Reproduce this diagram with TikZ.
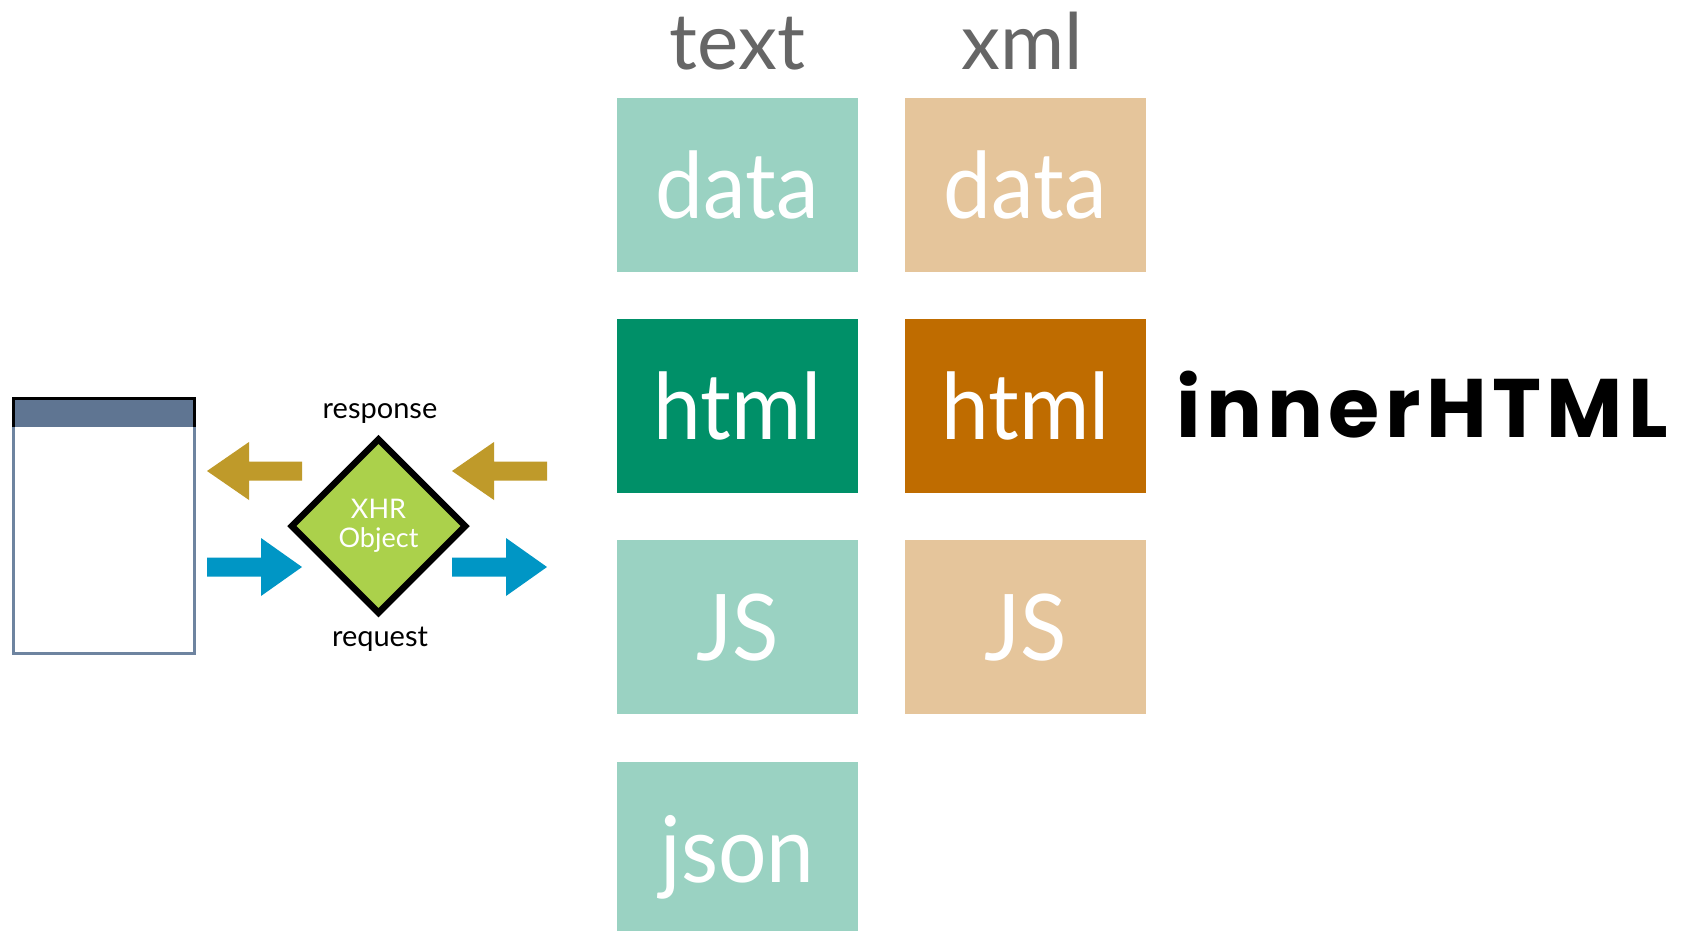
\documentclass[tikz,border=0pt]{standalone}
\usepackage{fontspec}
\usetikzlibrary{shapes.geometric}
\newfontfamily\gillfont{Lato}
\newfontfamily\boxfontfam[FakeStretch=0.93]{Lato}
\newfontfamily\heavyfont[LetterSpace=6.5]{Poppins}
\definecolor{tealL}{HTML}{9AD2C2}
\definecolor{tealD}{HTML}{009068}
\definecolor{tanL}{HTML}{E5C59B}
\definecolor{tanD}{HTML}{BF6C00}
\definecolor{greyT}{HTML}{666666}
\definecolor{xhrgreen}{HTML}{ABD14B}
\definecolor{gold}{HTML}{BF9A2A}
\definecolor{blueA}{HTML}{0096C5}
\definecolor{winbar}{HTML}{5F7592}
\definecolor{winedge}{HTML}{6E84A0}
\tikzset{
  fmtbox/.style={rectangle, minimum width=241pt, minimum height=174pt, inner sep=0pt,
    text=white, text height=66pt, text depth=0pt,
    font=\boxfontfam\fontsize{92}{100}\selectfont},
  collabel/.style={anchor=base, text=greyT, inner sep=0pt, font=\gillfont\fontsize{78}{84}\selectfont},
  smalllabel/.style={anchor=base, text=black, inner sep=0pt, font=\gillfont\fontsize{29}{32}\selectfont},
  larrow/.pic={\fill (0,0) -- (42,-29) -- (42,-9.5) -- (95,-9.5) -- (95,9.5) -- (42,9.5) -- (42,29) -- cycle;},
  rarrow/.pic={\fill (0,-9.5) -- (54,-9.5) -- (54,-29) -- (95,0) -- (54,29) -- (54,9.5) -- (0,9.5) -- cycle;}
}
\begin{document}
\begin{tikzpicture}[x=1pt,y=-1pt]
\useasboundingbox[fill=white] (0,0) rectangle (1690,930);
% column labels
\node[collabel] (ltext) at (737.5,69) {text};
\node[collabel] (lxml) at (1022,69) {xml};
% text column
\node[fmtbox, fill=tealL] (tdata) at (737.5,185) {data};
\node[fmtbox, fill=tealD] (thtml) at (737.5,406) {html};
\node[fmtbox, fill=tealL] (tjs) at (737.5,627) {JS};
\node[fmtbox, fill=tealL] (tjson) at (737.5,849) {json};
% xml column
\node[fmtbox, fill=tanL] (xdata) at (1025.5,185) {data};
\node[fmtbox, fill=tanD] (xhtml) at (1025.5,406) {html};
\node[fmtbox, fill=tanL] (xjs) at (1025.5,627) {JS};
% innerHTML
\node[anchor=base west, inner sep=0pt, font=\heavyfont\bfseries\fontsize{83}{90}\selectfont] (inner) at (1176,437) {innerHTML};
% browser window
\filldraw[fill=white, draw=winedge, line width=3pt] (13,398) rectangle (194,653);
\fill[winbar] (13,398) rectangle (194,427);
\draw[black, line width=3pt] (13,427) -- (13,398) -- (194,398) -- (194,427);
% XHR object
\node[diamond, minimum width=176pt, minimum height=176pt, inner sep=0pt, fill=xhrgreen, draw=black, line width=6.5pt,
  text=white, align=center, font=\gillfont\fontsize{27}{29}\selectfont] (xhr) at (378.5,526) {XHR\\Object};
\node[smalllabel] (resp) at (380,418) {response};
\node[smalllabel] (req) at (380,646) {request};
% arrows
\pic[gold] at (207,471) {larrow};
\pic[gold] at (452,471) {larrow};
\pic[blueA] at (207,567) {rarrow};
\pic[blueA] at (452,567) {rarrow};
\end{tikzpicture}
\end{document}
